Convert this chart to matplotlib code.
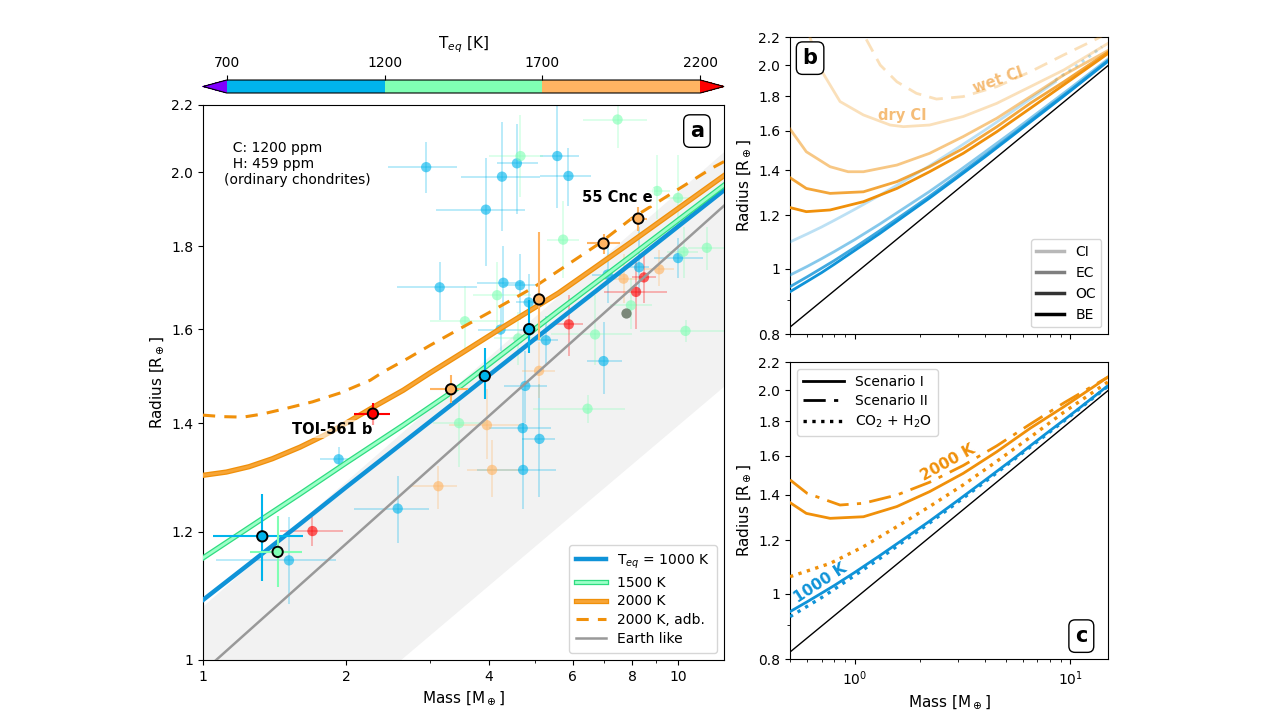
import matplotlib
matplotlib.use("Agg")
import matplotlib.pyplot as plt
import matplotlib.patheffects as pe
from matplotlib.colors import BoundaryNorm
from matplotlib.cm import ScalarMappable
from matplotlib.ticker import FixedLocator, NullLocator, FuncFormatter, NullFormatter
from matplotlib.lines import Line2D

# ---------------- data: panel a ----------------
teq_bounds = [700, 1200, 1700, 2200]

# observed planets (faded)
obs_m = [2.95, 4.26, 4.58, 5.57, 3.94, 3.15, 4.29, 4.65, 4.85, 4.23, 5.27, 4.77, 4.71, 5.11, 4.72,
         1.93, 1.517, 2.57, 5.88, 6.97, 10.0, 8.28, 7.11,
         4.66, 3.56, 4.16, 4.61, 3.46, 6.69, 6.45, 10.37, 7.46, 9.04, 10.0, 5.73, 10.27, 11.5, 7.96,
         5.10, 3.96, 4.06, 3.13, 9.13, 7.68,
         1.70, 5.89, 8.48, 8.16]
obs_r = [2.014, 1.987, 2.025, 2.046, 1.896, 1.698, 1.709, 1.703, 1.662, 1.599, 1.575, 1.476, 1.390, 1.369, 1.310,
         1.330, 1.152, 1.240, 1.989, 1.529, 1.770, 1.747, 1.729,
         2.046, 1.618, 1.679, 1.579, 1.400, 1.588, 1.429, 1.596, 2.155, 1.947, 1.928, 1.817, 1.786, 1.796, 1.655,
         1.508, 1.396, 1.310, 1.280, 1.742, 1.719,
         1.201, 1.611, 1.722, 1.687]
obs_m_lo = [2.45, 3.49, 4.15, 5.12, 3.10, 2.56, 3.77, 4.30, 4.55, 3.80, 4.90, 4.30, 4.00, 4.70, 3.77,
            1.76, 1.065, 2.08, 5.12, 6.42, 8.90, 7.90, 6.60,
            4.00, 3.00, 3.70, 4.10, 3.05, 5.40, 4.95, 8.30, 6.30, 8.60, 9.40, 5.30, 9.50, 10.5, 7.20,
            4.70, 3.30, 3.60, 2.74, 8.50, 6.80,
            1.45, 5.45, 8.00, 7.00]
obs_m_hi = [3.43, 5.12, 5.08, 6.20, 4.77, 3.77, 4.72, 5.10, 5.15, 4.80, 5.60, 5.30, 5.40, 5.50, 5.54,
            2.10, 1.905, 2.99, 6.57, 7.63, 11.3, 8.70, 7.60,
            5.20, 4.30, 4.90, 5.20, 3.95, 8.00, 7.75, 13.0, 8.60, 9.60, 10.8, 6.20, 11.0, 12.5, 8.80,
            5.50, 4.70, 4.70, 3.43, 9.80, 8.50,
            1.97, 6.30, 9.00, 9.50]
obs_r_lo = [1.941, 1.840, 1.885, 1.900, 1.750, 1.620, 1.600, 1.620, 1.600, 1.550, 1.520, 1.400, 1.310, 1.260, 1.240,
            1.310, 1.083, 1.181, 1.905, 1.460, 1.720, 1.680, 1.660,
            1.930, 1.550, 1.600, 1.520, 1.315, 1.520, 1.400, 1.570, 2.070, 1.870, 1.850, 1.720, 1.720, 1.740, 1.600,
            1.450, 1.330, 1.260, 1.240, 1.700, 1.660,
            1.175, 1.540, 1.660, 1.600]
obs_r_hi = [2.088, 2.147, 2.140, 2.250, 2.040, 1.760, 1.800, 1.780, 1.730, 1.650, 1.630, 1.550, 1.470, 1.480, 1.400,
            1.354, 1.225, 1.298, 2.070, 1.616, 1.820, 1.850, 1.800,
            2.170, 1.700, 1.760, 1.640, 1.440, 1.680, 1.457, 1.620, 2.220, 2.050, 2.050, 1.920, 1.850, 1.850, 1.720,
            1.570, 1.470, 1.366, 1.317, 1.790, 1.780,
            1.226, 1.680, 1.780, 1.760]
obs_teq = [1000] * 23 + [1450] * 15 + [1900] * 6 + [2300] * 4

blend_m = [7.76]
blend_r = [1.638]

# highlighted planets
hl_m = [1.333, 1.436, 2.279, 3.328, 3.92, 4.86, 5.10, 6.97, 8.25]
hl_r = [1.192, 1.166, 1.419, 1.469, 1.497, 1.600, 1.669, 1.807, 1.872]
hl_m_lo = [1.05, 1.256, 2.08, 3.01, 3.82, 4.76, 4.94, 6.42, 7.93]
hl_m_hi = [1.62, 1.616, 2.47, 3.61, 4.02, 4.97, 5.27, 7.55, 8.60]
hl_r_lo = [1.119, 1.109, 1.397, 1.440, 1.448, 1.546, 1.575, 1.781, 1.840]
hl_r_hi = [1.266, 1.227, 1.440, 1.499, 1.557, 1.667, 1.836, 1.832, 1.903]
hl_teq = [1000, 1450, 2300, 1900, 1000, 1000, 1900, 1900, 1900]

# model curves, panel a
ma = [1, 1.25, 1.6, 2, 2.64, 3.5, 5.6, 8, 12.5]
r_1000 = [1.089, 1.146, 1.213, 1.278, 1.362, 1.453, 1.620, 1.758, 1.949]
r_1500 = [1.156, 1.207, 1.266, 1.323, 1.396, 1.477, 1.642, 1.777, 1.963]
ma_2000 = [1, 1.12, 1.25, 1.4, 1.6, 1.8, 2, 2.3, 2.64, 3.0, 3.5, 4.3, 5.6, 8, 12.5]
r_2000 = [1.300, 1.306, 1.316, 1.331, 1.353, 1.376, 1.400, 1.434, 1.467, 1.503, 1.546, 1.606, 1.684, 1.812, 1.990]
m_adb = [1, 1.1, 1.214, 1.33, 1.474, 1.7, 1.94, 2.25, 2.39, 2.7, 3.0, 3.5, 4.0, 4.97, 6.79, 8.0, 11.85, 12.5]
r_adb = [1.416, 1.413, 1.412, 1.418, 1.428, 1.443, 1.461, 1.488, 1.505, 1.535, 1.563, 1.603, 1.638,
         1.698, 1.805, 1.873, 2.013, 2.03]
earth_m = [0.5, 15]
earth_r = [0.82, 2.0]
band_m = [1, 12.5]
band_lo = [0.789, 1.476]
band_hi = [1.08, 2.06]

# ---------------- data: panel b ----------------
mb = [0.5, 0.6, 0.7, 0.8, 1.0, 1.3, 1.7, 2.2, 3, 4, 5.5, 7.5, 10, 15]
blue_be = [0.925, 0.958, 0.987, 1.015, 1.065, 1.127, 1.198, 1.270, 1.366, 1.463, 1.582, 1.707, 1.833, 2.030]
blue_oc = [0.941, 0.973, 1.002, 1.028, 1.076, 1.138, 1.207, 1.278, 1.374, 1.471, 1.588, 1.714, 1.838, 2.034]
blue_ec = [0.979, 1.008, 1.035, 1.060, 1.105, 1.164, 1.231, 1.299, 1.392, 1.488, 1.603, 1.727, 1.851, 2.044]
mb_ci = [0.5, 0.6, 0.7, 0.8, 1.0, 1.3, 1.7, 2.2, 3, 4, 5.5, 7.5, 8.5]
blue_ci = [1.096, 1.126, 1.153, 1.179, 1.225, 1.284, 1.350, 1.418, 1.510, 1.603, 1.718, 1.839, 1.890]
mb_ci_wet = [8.5, 11, 14]
blue_ci_wet = [1.90, 2.01, 2.13]

mo = [0.5, 0.595, 0.767, 1.095, 1.566, 2.22, 3.18, 4.55, 6.52, 9.3, 15]
orange_be = [1.232, 1.215, 1.222, 1.257, 1.315, 1.392, 1.482, 1.595, 1.728, 1.871, 2.084]
orange_oc = [1.364, 1.315, 1.293, 1.300, 1.346, 1.416, 1.507, 1.622, 1.758, 1.890, 2.094]
mo_ec = [0.5, 0.595, 0.767, 0.93, 1.095, 1.566, 2.22, 3.18, 4.55, 6.52, 9.3, 15]
orange_ec = [1.610, 1.490, 1.416, 1.392, 1.392, 1.424, 1.482, 1.569, 1.670, 1.798, 1.935, 2.105]
mo_dry = [0.57, 0.619, 0.689, 0.853, 1.095, 1.458, 1.678, 2.22, 3.18, 4.55, 6.52, 9.3, 15]
orange_dry = [2.35, 2.2, 1.980, 1.768, 1.689, 1.632, 1.623, 1.632, 1.680, 1.757, 1.860, 1.968, 2.157]
mo_wet = [1.06, 1.116, 1.31, 1.566, 1.93, 2.39, 3.18, 4.55, 6.52, 9.3, 13.3, 15]
orange_wet = [2.35, 2.2, 2.002, 1.891, 1.818, 1.783, 1.798, 1.860, 1.957, 2.072, 2.19, 2.24]

# ---------------- data: panel c ----------------
mc_s2 = [0.5, 0.6, 0.853, 1.095, 1.566, 2.22, 3.18, 4.55, 6.52, 9.3, 15]
orange_s2 = [1.474, 1.408, 1.353, 1.361, 1.400, 1.462, 1.548, 1.655, 1.783, 1.915, 2.094]
mc_co2 = [0.5, 0.767, 1.095, 1.566, 2.22, 3.18, 4.55, 6.52, 9.3, 15]
orange_co2 = [1.060, 1.109, 1.174, 1.257, 1.346, 1.449, 1.570, 1.705, 1.855, 2.06]

comp_names = ["CI", "EC", "OC", "BE"]
comp_alpha = [0.28, 0.5, 0.8, 1.0]
r_ticks = [0.8, 1, 1.2, 1.4, 1.6, 1.8, 2.0, 2.2]

BLUE = "#0f93d8"
ORANGE = "#f0900a"

cmap = plt.get_cmap("rainbow", 5)
norm = BoundaryNorm(teq_bounds, ncolors=5, extend="both")


def rfmt(v, pos):
    return "1" if abs(v - 1) < 1e-9 else f"{v:.1f}"


def panel_label(ax, s, x, y):
    ax.text(x, y, s, transform=ax.transAxes, ha="center", va="center",
            fontsize=15, weight="bold", zorder=10,
            bbox=dict(boxstyle="round,pad=0.3", fc="white", ec="black", lw=1))


fig = plt.figure(figsize=(12.79, 7.17), dpi=100)
ax = fig.add_axes([0.1587, 0.0795, 0.4074, 0.7741])
cax = fig.add_axes([0.1587, 0.8703, 0.4074, 0.0181])
axb = fig.add_axes([0.6177, 0.5337, 0.2489, 0.4142])
axc = fig.add_axes([0.6177, 0.0805, 0.2489, 0.4142])

# ---------------- panel a ----------------
ax.set_xscale("log")
ax.set_yscale("log")
ax.fill_between(band_m, band_lo, band_hi, color="#f2f2f2", lw=0, zorder=0)

obs_cols = [cmap(norm(t)) for t in obs_teq]
for i in range(len(obs_m)):
    ax.errorbar(obs_m[i], obs_r[i],
                xerr=[[obs_m[i] - obs_m_lo[i]], [obs_m_hi[i] - obs_m[i]]],
                yerr=[[obs_r[i] - obs_r_lo[i]], [obs_r_hi[i] - obs_r[i]]],
                fmt="none", ecolor=obs_cols[i], alpha=0.32, lw=1.2, zorder=1)
ax.scatter(obs_m, obs_r, s=55, c=obs_cols, alpha=0.62, lw=0, zorder=2)
ax.scatter(blend_m, blend_r, s=55, c="#5f6e5c", alpha=0.8, lw=0, zorder=2)

ax.plot(earth_m, earth_r, color="#999999", lw=1.8, zorder=3, label="Earth like")
ax.plot(ma, r_1000, color=BLUE, lw=3.2, zorder=4, label="T$_{eq}$ = 1000 K")
ax.plot(ma, r_1500, color="#9dffc8", lw=2.0, zorder=4, label="1500 K",
        path_effects=[pe.Stroke(linewidth=3.8, foreground="#2edc80"), pe.Normal()])
ax.plot(ma_2000, r_2000, color="#f7a536", lw=2.0, zorder=4, label="2000 K",
        path_effects=[pe.Stroke(linewidth=3.8, foreground=ORANGE), pe.Normal()])
ax.plot(m_adb, r_adb, color=ORANGE, lw=2.2, ls=(0, (4, 3)), zorder=4, label="2000 K, adb.")

hl_cols = [cmap(norm(t)) for t in hl_teq]
for i in range(len(hl_m)):
    ax.errorbar(hl_m[i], hl_r[i],
                xerr=[[hl_m[i] - hl_m_lo[i]], [hl_m_hi[i] - hl_m[i]]],
                yerr=[[hl_r[i] - hl_r_lo[i]], [hl_r_hi[i] - hl_r[i]]],
                fmt="none", ecolor=hl_cols[i], lw=1.5, zorder=5)
ax.scatter(hl_m, hl_r, s=55, c=hl_cols, edgecolors="black", linewidths=1.4, zorder=6)

lbl_box = dict(boxstyle="square,pad=0.1", fc="white", ec="none", alpha=0.6)
ax.text(7.44, 1.93, "55 Cnc e", fontsize=10.5, weight="bold", ha="center", va="center",
        zorder=7, bbox=lbl_box)
ax.text(1.87, 1.388, "TOI-561 b", fontsize=10.5, weight="bold", ha="center", va="center",
        zorder=7, bbox=lbl_box)
ax.text(0.04, 0.935, "  C: 1200 ppm\n  H: 459 ppm\n(ordinary chondrites)", transform=ax.transAxes,
        fontsize=10, ha="left", va="top", linespacing=1.2)
panel_label(ax, "a", 0.948, 0.953)

ax.set_xlim(1, 12.5)
ax.set_ylim(1, 2.2)
ax.xaxis.set_major_locator(FixedLocator([1, 2, 4, 6, 8, 10]))
ax.xaxis.set_major_formatter(FuncFormatter(lambda v, p: f"{v:g}"))
ax.xaxis.set_minor_locator(FixedLocator([3, 5, 7, 9]))
ax.xaxis.set_minor_formatter(NullFormatter())
ax.yaxis.set_major_locator(FixedLocator(r_ticks))
ax.yaxis.set_major_formatter(FuncFormatter(rfmt))
ax.yaxis.set_minor_locator(NullLocator())
ax.tick_params(labelsize=10)
ax.set_xlabel("Mass [M$_\\oplus$]", fontsize=11)
ax.set_ylabel("Radius [R$_\\oplus$]", fontsize=11)

h, l = ax.get_legend_handles_labels()
order = [1, 2, 3, 4, 0]
ax.legend([h[i] for i in order], [l[i] for i in order], loc="lower right", fontsize=10,
          handlelength=2.2, labelspacing=0.35, borderpad=0.5)

# colorbar
sm = ScalarMappable(norm=norm, cmap=cmap)
cb = fig.colorbar(sm, cax=cax, orientation="horizontal", extend="both", ticks=teq_bounds)
cb.ax.xaxis.set_ticks_position("top")
cb.ax.xaxis.set_label_position("top")
cb.set_label("T$_{eq}$ [K]", fontsize=11, labelpad=6)
cb.ax.tick_params(labelsize=10)
cb.outline.set_linewidth(0.8)

# ---------------- panel b ----------------
for a_ in (axb, axc):
    a_.set_xscale("log")
    a_.set_yscale("log")
    a_.plot(earth_m, earth_r, color="black", lw=1.0, zorder=5)

blue_sets = [(mb_ci, blue_ci), (mb, blue_ec), (mb, blue_oc), (mb, blue_be)]
orange_sets = [(mo_dry, orange_dry), (mo_ec, orange_ec), (mo, orange_oc), (mo, orange_be)]
for (m_, r_), al in zip(blue_sets, comp_alpha):
    axb.plot(m_, r_, color=BLUE, alpha=al, lw=2.0, zorder=3)
axb.plot(mb_ci_wet, blue_ci_wet, color=BLUE, alpha=comp_alpha[0], lw=2.2, ls=":", zorder=3)
for (m_, r_), al in zip(orange_sets, comp_alpha):
    axb.plot(m_, r_, color=ORANGE, alpha=al, lw=2.0, zorder=4)
axb.plot(mo_wet, orange_wet, color=ORANGE, alpha=comp_alpha[0], lw=2.0, ls=(0, (5, 3)), zorder=4)

axb.text(1.667, 1.684, "dry CI", color="#f5bd78", fontsize=10.5, weight="bold", ha="center", va="center")
axb.text(4.61, 1.902, "wet CI", color="#f5bd78", fontsize=10.5, weight="bold", ha="center",
         va="center", rotation=19)
panel_label(axb, "b", 0.063, 0.93)

comp_handles = [Line2D([], [], color="black", alpha=al, lw=2.5) for al in comp_alpha]
axb.legend(comp_handles, comp_names, loc="lower right", fontsize=10, handlelength=2.0,
           labelspacing=0.5)

# ---------------- panel c ----------------
axc.plot(mb, blue_oc, color=BLUE, lw=2.0, zorder=3)
axc.plot(mb, blue_be, color=BLUE, lw=2.4, ls=":", zorder=3)
axc.plot(mo, orange_oc, color=ORANGE, lw=2.0, zorder=4)
axc.plot(mc_s2, orange_s2, color=ORANGE, lw=2.0, ls=(0, (8, 3, 1.5, 3)), zorder=4)
axc.plot(mc_co2, orange_co2, color=ORANGE, lw=2.4, ls=":", zorder=4)

axc.text(0.689, 1.038, "1000 K", color=BLUE, fontsize=11, weight="bold", ha="center",
         va="center", rotation=33)
axc.text(2.70, 1.561, "2000 K", color=ORANGE, fontsize=11, weight="bold", ha="center",
         va="center", rotation=29)
panel_label(axc, "c", 0.915, 0.078)

sc_handles = [Line2D([], [], color="black", lw=2, ls="-"),
              Line2D([], [], color="black", lw=2, ls=(0, (8, 3, 1.5, 3))),
              Line2D([], [], color="black", lw=2.4, ls=":")]
axc.legend(sc_handles, ["Scenario I", "Scenario II", "CO$_2$ + H$_2$O"], loc="upper left",
           fontsize=10, handlelength=3.0, labelspacing=0.4)

for a_ in (axb, axc):
    a_.set_xlim(0.5, 15)
    a_.set_ylim(0.8, 2.2)
    a_.yaxis.set_major_locator(FixedLocator(r_ticks))
    a_.yaxis.set_major_formatter(FuncFormatter(rfmt))
    a_.yaxis.set_minor_locator(FixedLocator([0.9]))
    a_.yaxis.set_minor_formatter(NullFormatter())
    a_.tick_params(labelsize=10)
    a_.set_ylabel("Radius [R$_\\oplus$]", fontsize=11)
axb.tick_params(axis="x", which="both", labelbottom=False)
axc.set_xlabel("Mass [M$_\\oplus$]", fontsize=11)

fig.savefig("out.png", dpi=100)
